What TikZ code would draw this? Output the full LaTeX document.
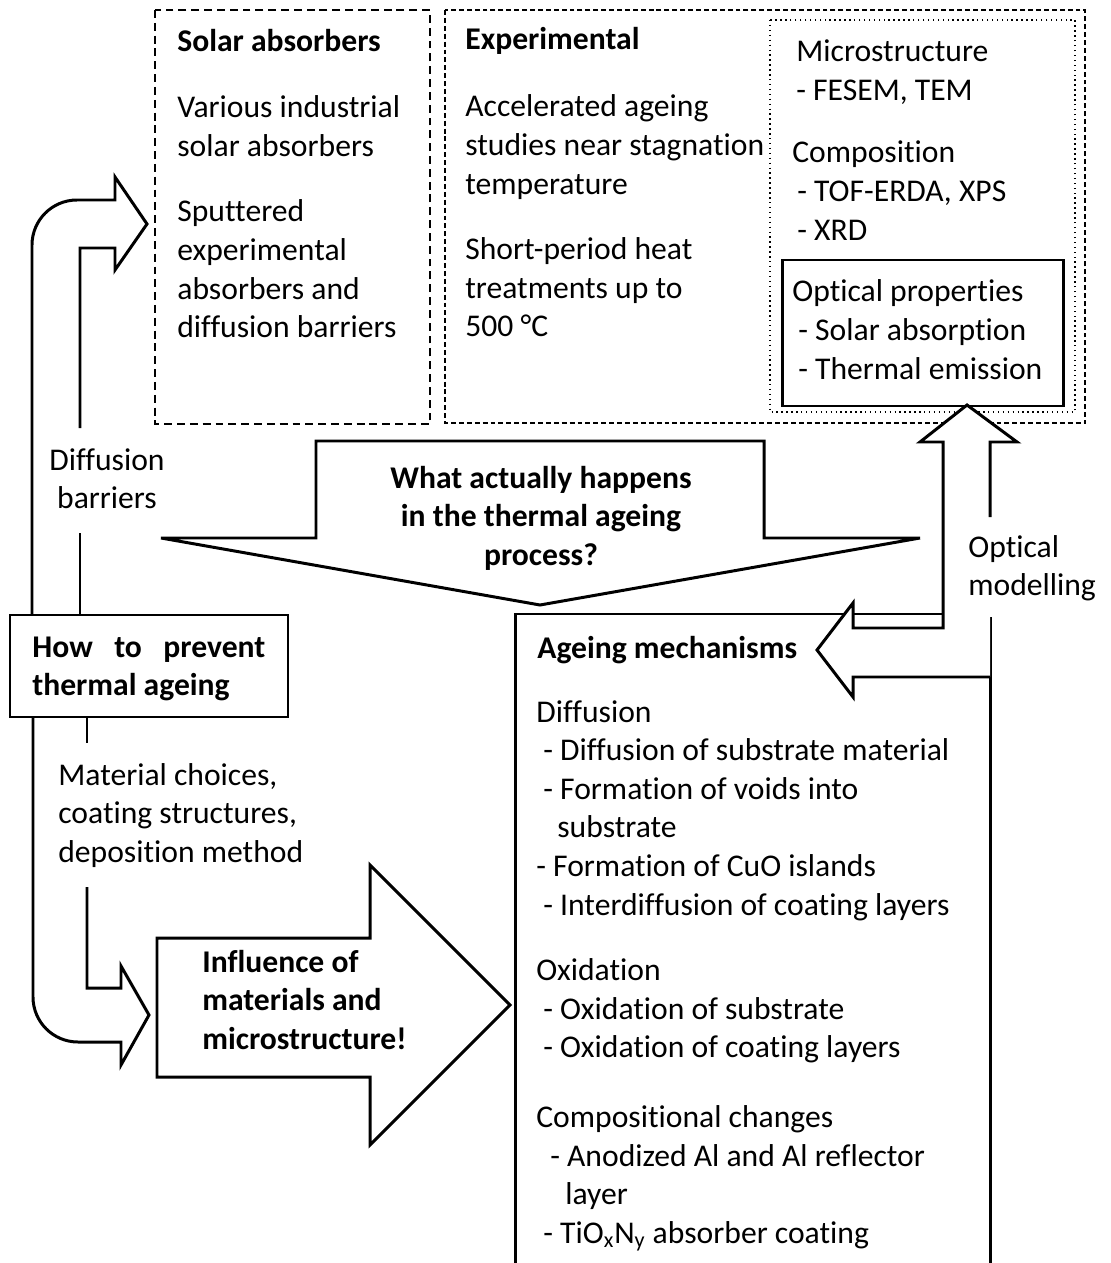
\documentclass[tikz,border=0pt]{standalone}
\usepackage{fontspec}
\setmainfont{Carlito}[Ligatures=NoCommon]
\usepackage{tikz}

\tikzset{
  txt/.style={anchor=base west, inner sep=0pt, align=flush left, text width=9cm, font=\fontsize{18}{22}\selectfont},
  btxt/.style={txt, font=\fontsize{18}{22}\selectfont\bfseries},
  solarbox/.style={line width=1.1pt, dash pattern=on 4.5pt off 2.8pt},
  expbox/.style={line width=1.3pt, dash pattern=on 2.8pt off 1.7pt},
  probebox/.style={line width=0.8pt, dotted},
  blockarrow/.style={line width=1.7pt, line join=miter},
}

\begin{document}
\begin{tikzpicture}[x=0.02cm, y=-0.02cm]
    \useasboundingbox (0,0) rectangle (1110,1263);

    % solar absorbers
    \draw[solarbox] (155,10) rectangle (430,424);
    \node[btxt] (solar) at (177,52) {Solar absorbers};
    \node[txt] (solartext) at (177,118) {Various industrial\\solar absorbers\\[0.53cm]Sputtered\\experimental\\absorbers and\\diffusion barriers};

    % experimental
    \draw[expbox] (445,10) rectangle (1085,423);
    \node[btxt] (exp) at (465,50) {Experimental};
    \node[txt] (exptext) at (465,117) {Accelerated ageing\\studies near stagnation\\temperature\\[0.53cm]Short-period heat\\treatments up to\\500 °C};

    % characterisation
    \draw[probebox] (770,20) rectangle (1075,412);
    \node[txt] (micro) at (796,62) {Microstructure\\- FESEM, TEM};
    \node[txt] (compo) at (792,163) {Composition\\\hspace*{0.1cm}- TOF-ERDA, XPS\\\hspace*{0.1cm}- XRD};
    \draw[blockarrow] (782,260) rectangle (1063,406);
    \node[txt] (optic) at (792,302) {Optical properties\\\hspace*{0.12cm}- Solar absorption\\\hspace*{0.12cm}- Thermal emission};

    % how to prevent
    \draw[blockarrow] (10,615) rectangle (288,717);
    \node[btxt, text width=4.66cm] (prevent) at (32,657) {How\hfill to\hfill prevent\\thermal ageing};

    % diffusion barriers arrow
    \draw[blockarrow] (32,615) -- (32,245) arc[start angle=180, end angle=270, radius=45]
        -- (115,200) -- (115,177) -- (147,224) -- (115,270) -- (115,248) -- (80,248) -- (80,428);
    \draw[blockarrow] (80,533) -- (80,615);
    \node[txt, anchor=base, align=flush center, text width=4cm] (barrier) at (107,470) {Diffusion\\barriers};

    % material choices arrow
    \draw[blockarrow] (33,717) -- (33,997) arc[start angle=180, end angle=90, radius=45]
        -- (121,1042) -- (121,1065) -- (149,1015) -- (121,966) -- (121,988) -- (87,988) -- (87,887);
    \draw[blockarrow] (87,717) -- (87,743);
    \node[txt] (material) at (58,785) {Material choices,\\coating structures,\\deposition method};

    % question
    \draw[blockarrow, fill=white] (316,441) -- (764,441) -- (764,538) -- (920,538) -- (540,605) -- (161,538) -- (316,538) -- cycle;
    \node[btxt, anchor=base, align=flush center, text width=8cm] (question) at (541,488) {What actually happens\\in the thermal ageing\\process?};

    % influence
    \draw[blockarrow, fill=white] (157,938) -- (370,938) -- (370,865) -- (510,1005) -- (370,1145) -- (370,1077) -- (157,1077) -- cycle;
    \node[btxt] (influence) at (202,972) {Influence of\\materials and\\microstructure!};

    % ageing mechanisms
    \draw[blockarrow] (515,1263) -- (515,614) -- (943,614);
    \draw[blockarrow] (990,617) -- (990,1263);
    \node[btxt] (ageing) at (537,658) {Ageing mechanisms};
    \node[txt] (mechanisms) at (536,722) {Diffusion\\
        \hspace*{0.14cm}- Diffusion of substrate material\\
        \hspace*{0.14cm}- Formation of voids into\\
        \hspace*{0.42cm}substrate\\
        - Formation of CuO islands\\
        \hspace*{0.14cm}- Interdiffusion of coating layers\\[0.53cm]
        Oxidation\\
        \hspace*{0.14cm}- Oxidation of substrate\\
        \hspace*{0.14cm}- Oxidation of coating layers\\[0.62cm]
        Compositional changes\\
        \hspace*{0.28cm}- Anodized Al and Al reflector\\
        \hspace*{0.58cm}layer\\
        \hspace*{0.14cm}- TiO\textsubscript{x}N\textsubscript{y} absorber coating};

    % optical modelling arrow
    \fill[white] (990,677) -- (853,677) -- (853,697) -- (817,650) -- (853,603) -- (853,628) -- (943,628)
        -- (943,442) -- (920,442) -- (967,405) -- (1017,442) -- (990,442) -- cycle;
    \draw[blockarrow] (990,677) -- (853,677) -- (853,697) -- (817,650) -- (853,603) -- (853,628) -- (943,628)
        -- (943,442) -- (920,442) -- (967,405) -- (1017,442) -- (990,442) -- (990,517);
    \node[txt] (modelling) at (968,557) {Optical\\modelling};
\end{tikzpicture}
\end{document}
